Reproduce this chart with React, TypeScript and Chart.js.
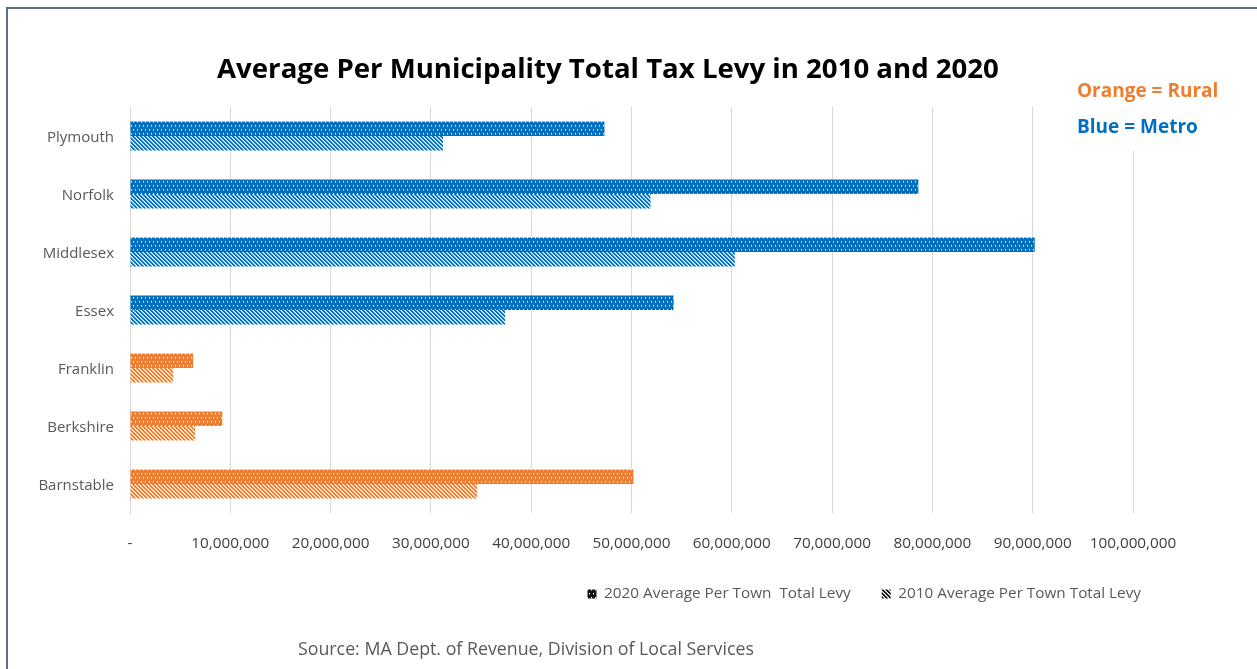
import React, { useEffect, useRef } from 'react';
import { Chart, registerables } from 'chart.js';

Chart.register(...registerables);

const categories = ['Plymouth', 'Norfolk', 'Middlesex', 'Essex', 'Franklin', 'Berkshire', 'Barnstable'];
const levy2020 = [47300000, 78600000, 90200000, 54200000, 6300000, 9200000, 50200000];
const levy2010 = [31200000, 51900000, 60300000, 37400000, 4300000, 6500000, 34600000];
const regionType = ['Metro', 'Metro', 'Metro', 'Metro', 'Rural', 'Rural', 'Rural'];
const seriesLabels = ['2020 Average Per Town  Total Levy', '2010 Average Per Town Total Levy'];
const xTickLabels = ['-', '10,000,000', '20,000,000', '30,000,000', '40,000,000', '50,000,000', '60,000,000', '70,000,000', '80,000,000', '90,000,000', '100,000,000'];

const BLUE = '#0070C0';
const ORANGE = '#ED7D31';
const FONT = "'Open Sans', sans-serif";

function mix(color: string, t: number): string {
  const n = parseInt(color.slice(1), 16);
  const r = (n >> 16) & 255, g = (n >> 8) & 255, b = n & 255;
  const f = (v: number) => Math.round(v * t + 255 * (1 - t));
  return `rgb(${f(r)},${f(g)},${f(b)})`;
}

function makePattern(color: string, kind: 'dots' | 'stripes'): CanvasPattern {
  const c = document.createElement('canvas');
  if (kind === 'dots') {
    const s = 8;
    c.width = s;
    c.height = s;
    const g2 = c.getContext('2d')!;
    g2.fillStyle = color;
    g2.fillRect(0, 0, s, s);
    g2.fillStyle = '#ffffff';
    [[1, 1], [5, 1], [3, 5], [7, 5]].forEach(([x, y]) => g2.fillRect(x, y, 1, 1));
    g2.fillStyle = mix(color, 0.55);
    [[1, 2], [5, 2], [3, 6], [7, 6]].forEach(([x, y]) => g2.fillRect(x, y, 1, 1));
    return g2.createPattern(c, 'repeat')!;
  }
  const s = 4;
  c.width = s;
  c.height = s;
  const g3 = c.getContext('2d')!;
  g3.fillStyle = '#ffffff';
  g3.fillRect(0, 0, s, s);
  for (let y = 0; y < s; y++) {
    for (let x = 0; x < s; x++) {
      const d = (((x - y) % s) + s) % s;
      if (d < 2) {
        g3.fillStyle = color;
        g3.fillRect(x, y, 1, 1);
      } else if (d === 2) {
        g3.fillStyle = mix(color, 0.4);
        g3.fillRect(x, y, 1, 1);
      }
    }
  }
  return g3.createPattern(c, 'repeat')!;
}

export default function App() {
  const ref = useRef<HTMLCanvasElement>(null);

  useEffect(() => {
    const canvas = ref.current!;
    const blueDots = makePattern(BLUE, 'dots');
    const orangeDots = makePattern(ORANGE, 'dots');
    const blueStripes = makePattern(BLUE, 'stripes');
    const orangeStripes = makePattern(ORANGE, 'stripes');
    const blackDots = makePattern('#111111', 'dots');
    const blackStripes = makePattern('#111111', 'stripes');

    const legendShift = {
      id: 'legendShift',
      afterLayout(chart: any) {
        if (chart.legend) {
          chart.legend.left += 39;
          chart.legend.right += 39;
        }
      },
    };

    const chart = new Chart(canvas, {
      type: 'bar',
      data: {
        labels: categories,
        datasets: [
          {
            label: seriesLabels[0],
            data: levy2020,
            backgroundColor: regionType.map((r) => (r === 'Metro' ? blueDots : orangeDots)),
            borderWidth: 0,
            categoryPercentage: 0.5,
            barPercentage: 1,
          },
          {
            label: seriesLabels[1],
            data: levy2010,
            backgroundColor: regionType.map((r) => (r === 'Metro' ? blueStripes : orangeStripes)),
            borderWidth: 0,
            categoryPercentage: 0.5,
            barPercentage: 1,
          },
        ],
      },
      options: {
        indexAxis: 'y',
        responsive: false,
        maintainAspectRatio: false,
        animation: false,
        layout: { padding: { top: 107, left: 7, right: 124, bottom: 57.35 } },
        scales: {
          x: {
            min: 0,
            max: 100000000,
            ticks: {
              stepSize: 10000000,
              autoSkip: false,
              maxRotation: 0,
              padding: 21,
              color: '#404040',
              font: { family: FONT, size: 15.3 },
              callback: (_v: any, i: number) => xTickLabels[i],
            },
            grid: { color: '#d9d9d9', drawTicks: false, lineWidth: 1 },
            border: { display: false },
            afterFit: (s: any) => {
              s.height = 42.35;
            },
          },
          y: {
            ticks: { padding: 16, labelOffset: 2, color: '#595959', font: { family: FONT, size: 15 } },
            grid: { display: false, drawTicks: false },
            border: { display: true, color: '#d9d9d9', width: 1 },
            afterFit: (s: any) => {
              s.width = 123;
            },
          },
        },
        plugins: {
          title: { display: false },
          tooltip: { enabled: false },
          legend: {
            position: 'bottom',
            align: 'end',
            labels: {
              boxWidth: 9,
              boxHeight: 9,
              padding: 31,
              color: '#595959',
              font: { family: FONT, size: 15.3 },
              generateLabels: () =>
                seriesLabels.map((t, i) => ({
                  text: t,
                  fillStyle: i === 0 ? blackDots : blackStripes,
                  strokeStyle: 'rgba(0,0,0,0)',
                  lineWidth: 0,
                  hidden: false,
                  datasetIndex: i,
                  fontColor: '#595959',
                })),
            },
          },
        },
      },
      plugins: [legendShift],
    } as any);

    return () => chart.destroy();
  }, []);

  return (
    <div style={{ position: 'absolute', left: 0, top: 0, width: 1257, height: 669, background: '#ffffff', overflow: 'hidden' }}>
      <canvas ref={ref} width={1257} height={669} style={{ position: 'absolute', left: 0, top: 0, width: 1257, height: 669 }} />
      <div style={{ position: 'absolute', left: 6, top: 7, width: 1300, height: 700, borderLeft: '2px solid #5b6c8e', borderTop: '2px solid #5b6c8e', pointerEvents: 'none' }} />
      <div style={{ position: 'absolute', left: 608, top: 67, transform: 'translate(-50%, -50%)', whiteSpace: 'nowrap', fontFamily: FONT, fontWeight: 'bold', fontSize: 27.6, color: '#000000' }}>
        Average Per Municipality Total Tax Levy in 2010 and 2020
      </div>
      <div style={{ position: 'absolute', left: 1068, top: 65, width: 180, height: 86, background: '#ffffff' }}>
        <div style={{ position: 'absolute', left: 9, top: 25, transform: 'translateY(-50%)', whiteSpace: 'nowrap', fontFamily: FONT, fontWeight: 'bold', fontSize: 19, color: ORANGE }}>Orange = Rural</div>
        <div style={{ position: 'absolute', left: 9, top: 61, transform: 'translateY(-50%)', whiteSpace: 'nowrap', fontFamily: FONT, fontWeight: 'bold', fontSize: 19, color: BLUE }}>Blue = Metro</div>
      </div>
      <div style={{ position: 'absolute', left: 298, top: 648, transform: 'translateY(-50%)', whiteSpace: 'nowrap', fontFamily: FONT, fontSize: 17.8, color: '#595959' }}>
        Source: MA Dept. of Revenue, Division of Local Services
      </div>
    </div>
  );
}
